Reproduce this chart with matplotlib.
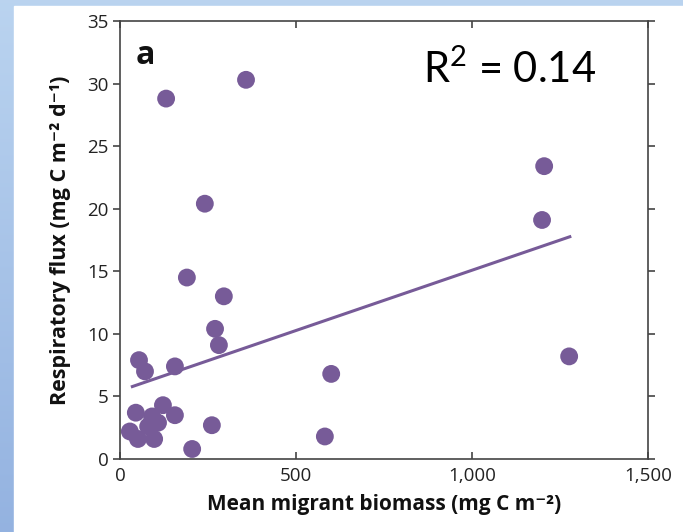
import numpy as np
import matplotlib
matplotlib.use("Agg")
import matplotlib.pyplot as plt
from matplotlib.patches import Rectangle

# Data (migrant biomass vs respiratory flux)
biomass = [131, 358, 241, 190, 295, 270, 281, 54, 71, 156, 600,
           45, 28, 51, 97, 122, 156, 91, 80, 108, 205, 261, 582,
           1205, 1199, 1276]
resp_flux = [28.8, 30.3, 20.4, 14.5, 13.0, 10.4, 9.1, 7.9, 7.0, 7.4, 6.8,
             3.7, 2.2, 1.6, 1.6, 4.3, 3.5, 3.4, 2.6, 2.9, 0.8, 2.7, 1.8,
             23.4, 19.1, 8.2]
# regression line end points
fit_x = [31, 1282]
fit_y = [5.75, 17.8]
x_ticks = [0, 500, 1000, 1500]
x_ticklabels = ["0", "500", "1,000", "1,500"]
y_ticks = [0, 5, 10, 15, 20, 25, 30, 35]

purple = "#775b98"
plt.rcParams['font.family'] = ['Open Sans', 'DejaVu Sans']
plt.rcParams['mathtext.fontset'] = 'custom'
plt.rcParams['mathtext.rm'] = 'Lato'

W, H = 683, 532
fig = plt.figure(figsize=(W / 100, H / 100), dpi=100)

# blue slide background with white panel
bg = fig.add_axes([0, 0, 1, 1], zorder=-10)
grad = np.linspace(0, 1, 256).reshape(-1, 1)
top_c = np.array([0.73, 0.83, 0.94])
bot_c = np.array([0.58, 0.70, 0.88])
img = top_c + (bot_c - top_c) * grad[..., None]
img = np.repeat(img, 2, axis=1)
bg.imshow(img, aspect='auto', extent=[0, 1, 0, 1])
bg.add_patch(Rectangle((14 / W, 0), 1 - 14 / W, 1 - 6 / H, color='white',
                       transform=bg.transAxes))
bg.set_axis_off()

ax = fig.add_axes([120 / W, 1 - 459 / H, (648 - 120) / W, (459 - 21) / H])
ax.scatter(biomass, resp_flux, s=165, color=purple, edgecolors='none', zorder=3)
ax.plot(fit_x, fit_y, color=purple, lw=2.2, solid_capstyle='butt', zorder=2)

ax.set_xlim(0, 1500)
ax.set_ylim(0, 35)
ax.set_xticks(x_ticks)
ax.set_xticklabels(x_ticklabels)
ax.set_yticks(y_ticks)

for s in ax.spines.values():
    s.set_color('#444444')
    s.set_linewidth(1.2)
ax.tick_params(axis='x', direction='in', top=True, length=5, width=1.2,
               color='#444444', labelsize=13.5, pad=6)
ax.tick_params(axis='y', direction='out', right=True, length=5, width=1.2,
               color='#444444', labelsize=13.5, pad=3)
ax.xaxis.set_tick_params(which='both', labelcolor='#222222')
ax.yaxis.set_tick_params(which='both', labelcolor='#222222')

ax.set_xlabel("Mean migrant biomass (mg C m\u207b\u00b2)", fontsize=15,
              fontweight='bold', labelpad=6, color='#111111')
ax.set_ylabel("Respiratory flux (mg C m\u207b\u00b2 d\u207b\u00b9)", fontsize=15.5,
              fontweight='bold', labelpad=12, color='#111111')

ax.text(0.03, 0.96, "a", transform=ax.transAxes, fontsize=23,
        fontweight='bold', va='top', ha='left', color='#111111')
fig.text(510 / W, 1 - 83 / H, r"R$^{2}$ = 0.14", fontsize=30, ha='center',
         va='baseline', family='Lato', color='black')

fig.savefig("out.png", dpi=100)
